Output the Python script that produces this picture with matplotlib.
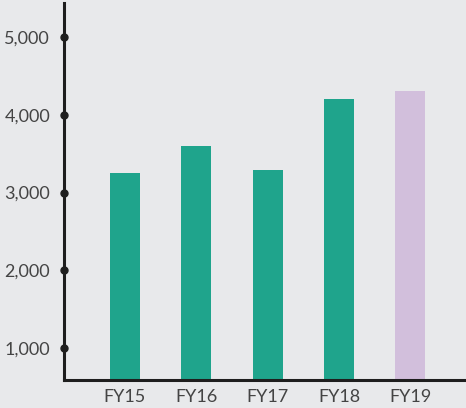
import matplotlib.pyplot as plt

# Values
years = ["FY15", "FY16", "FY17", "FY18", "FY19"]
values = [3250, 3600, 3290, 4210, 4310]
bar_colors = ["#1fa48c", "#1fa48c", "#1fa48c", "#1fa48c", "#d2bfdc"]
y_ticks = [1000, 2000, 3000, 4000, 5000]
y_tick_labels = ["1,000", "2,000", "3,000", "4,000", "5,000"]

plt.rcParams['font.family'] = ['Lato', 'DejaVu Sans']

bg = "#e8e9eb"
text_color = "#444444"

fig = plt.figure(figsize=(4.66, 4.08), dpi=100, facecolor=bg)
ax = fig.add_axes([64 / 466, 1 - 379.5 / 408, 1 - 64 / 466, (379.5 - 3) / 408])
ax.set_facecolor(bg)

x = list(range(len(years)))
ax.bar(x, values, width=0.42, color=bar_colors, zorder=2)

ax.set_xlim(-0.851, 4.779)
ax.set_ylim(595, 5440)

ax.set_xticks(x)
ax.set_xticklabels(years)
ax.set_yticks(y_ticks)
ax.set_yticklabels(y_tick_labels)
ax.tick_params(axis='both', length=0, labelsize=13, colors=text_color)
ax.tick_params(axis='y', pad=10)
ax.tick_params(axis='x', pad=7)

for side in ["top", "right"]:
    ax.spines[side].set_visible(False)
for side in ["left", "bottom"]:
    ax.spines[side].set_linewidth(2.2)
    ax.spines[side].set_color("#1e1e1e")

# dots on the y axis at each tick
ax.plot([ax.get_xlim()[0]] * len(y_ticks), y_ticks, "o", color="#1e1e1e",
        markersize=5, clip_on=False, zorder=5)

fig.savefig("out.png", dpi=100, facecolor=bg)
